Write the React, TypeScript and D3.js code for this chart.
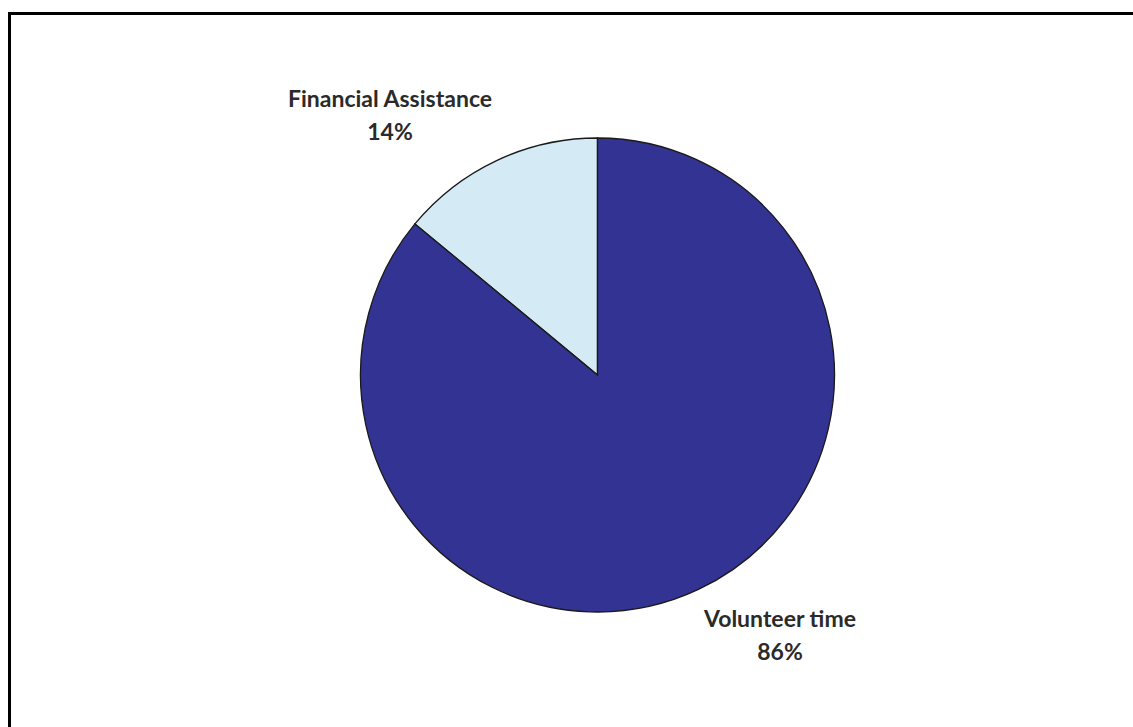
import React, { useEffect, useRef } from "react";
import * as d3 from "d3";

const categories = ["Financial Assistance", "Volunteer time"];
const values = [14, 86];
const percentLabels = ["14%", "86%"];
const colors = ["#D4EBF5", "#333393"];

const W = 1133;
const H = 727;

export default function App() {
  const ref = useRef<SVGSVGElement>(null);

  useEffect(() => {
    const svg = d3.select(ref.current);
    svg.selectAll("*").remove();

    // frame (top & left edges)
    svg.append("line").attr("x1", 9.5).attr("x2", W).attr("y1", 13.5).attr("y2", 13.5)
      .attr("stroke", "#000").attr("stroke-width", 3);
    svg.append("line").attr("x1", 9.5).attr("x2", 9.5).attr("y1", 12).attr("y2", H)
      .attr("stroke", "#000").attr("stroke-width", 3);

    const cx = 597.5, cy = 375, r = 237;
    const data = categories.map((c, i) => ({ name: c, value: values[i], label: percentLabels[i], color: colors[i] }));

    const total = d3.sum(values);
    const startAngle = -2 * Math.PI * (values[0] / total);
    const pie = d3.pie<any>().value((d) => d.value).sort(null)
      .startAngle(startAngle).endAngle(startAngle + 2 * Math.PI);
    const arcs = pie(data);
    const arc = d3.arc<any>().innerRadius(0).outerRadius(r);

    const g = svg.append("g").attr("transform", `translate(${cx},${cy})`);
    g.selectAll("path").data(arcs).enter().append("path")
      .attr("d", arc as any)
      .attr("fill", (d: any) => d.data.color)
      .attr("stroke", "#1a1a1a")
      .attr("stroke-width", 1.3)
      .attr("stroke-linejoin", "miter");

    const labelPos = [
      { x: 390, y: 107 },
      { x: 780, y: 627 },
    ];
    data.forEach((d, i) => {
      const t = svg.append("text")
        .attr("x", labelPos[i].x)
        .attr("y", labelPos[i].y)
        .attr("text-anchor", "middle")
        .attr("font-family", "Lato, 'Open Sans', sans-serif")
        .attr("font-weight", 700)
        .attr("font-size", 23)
        .attr("fill", "#2a2a2a");
      t.append("tspan").attr("x", labelPos[i].x).text(d.name);
      t.append("tspan").attr("x", labelPos[i].x).attr("dy", 32.5).text(d.label);
    });
  }, []);

  return <svg ref={ref} width={W} height={H} style={{ display: "block", position: "absolute", left: 0, top: 0 }} />;
}
